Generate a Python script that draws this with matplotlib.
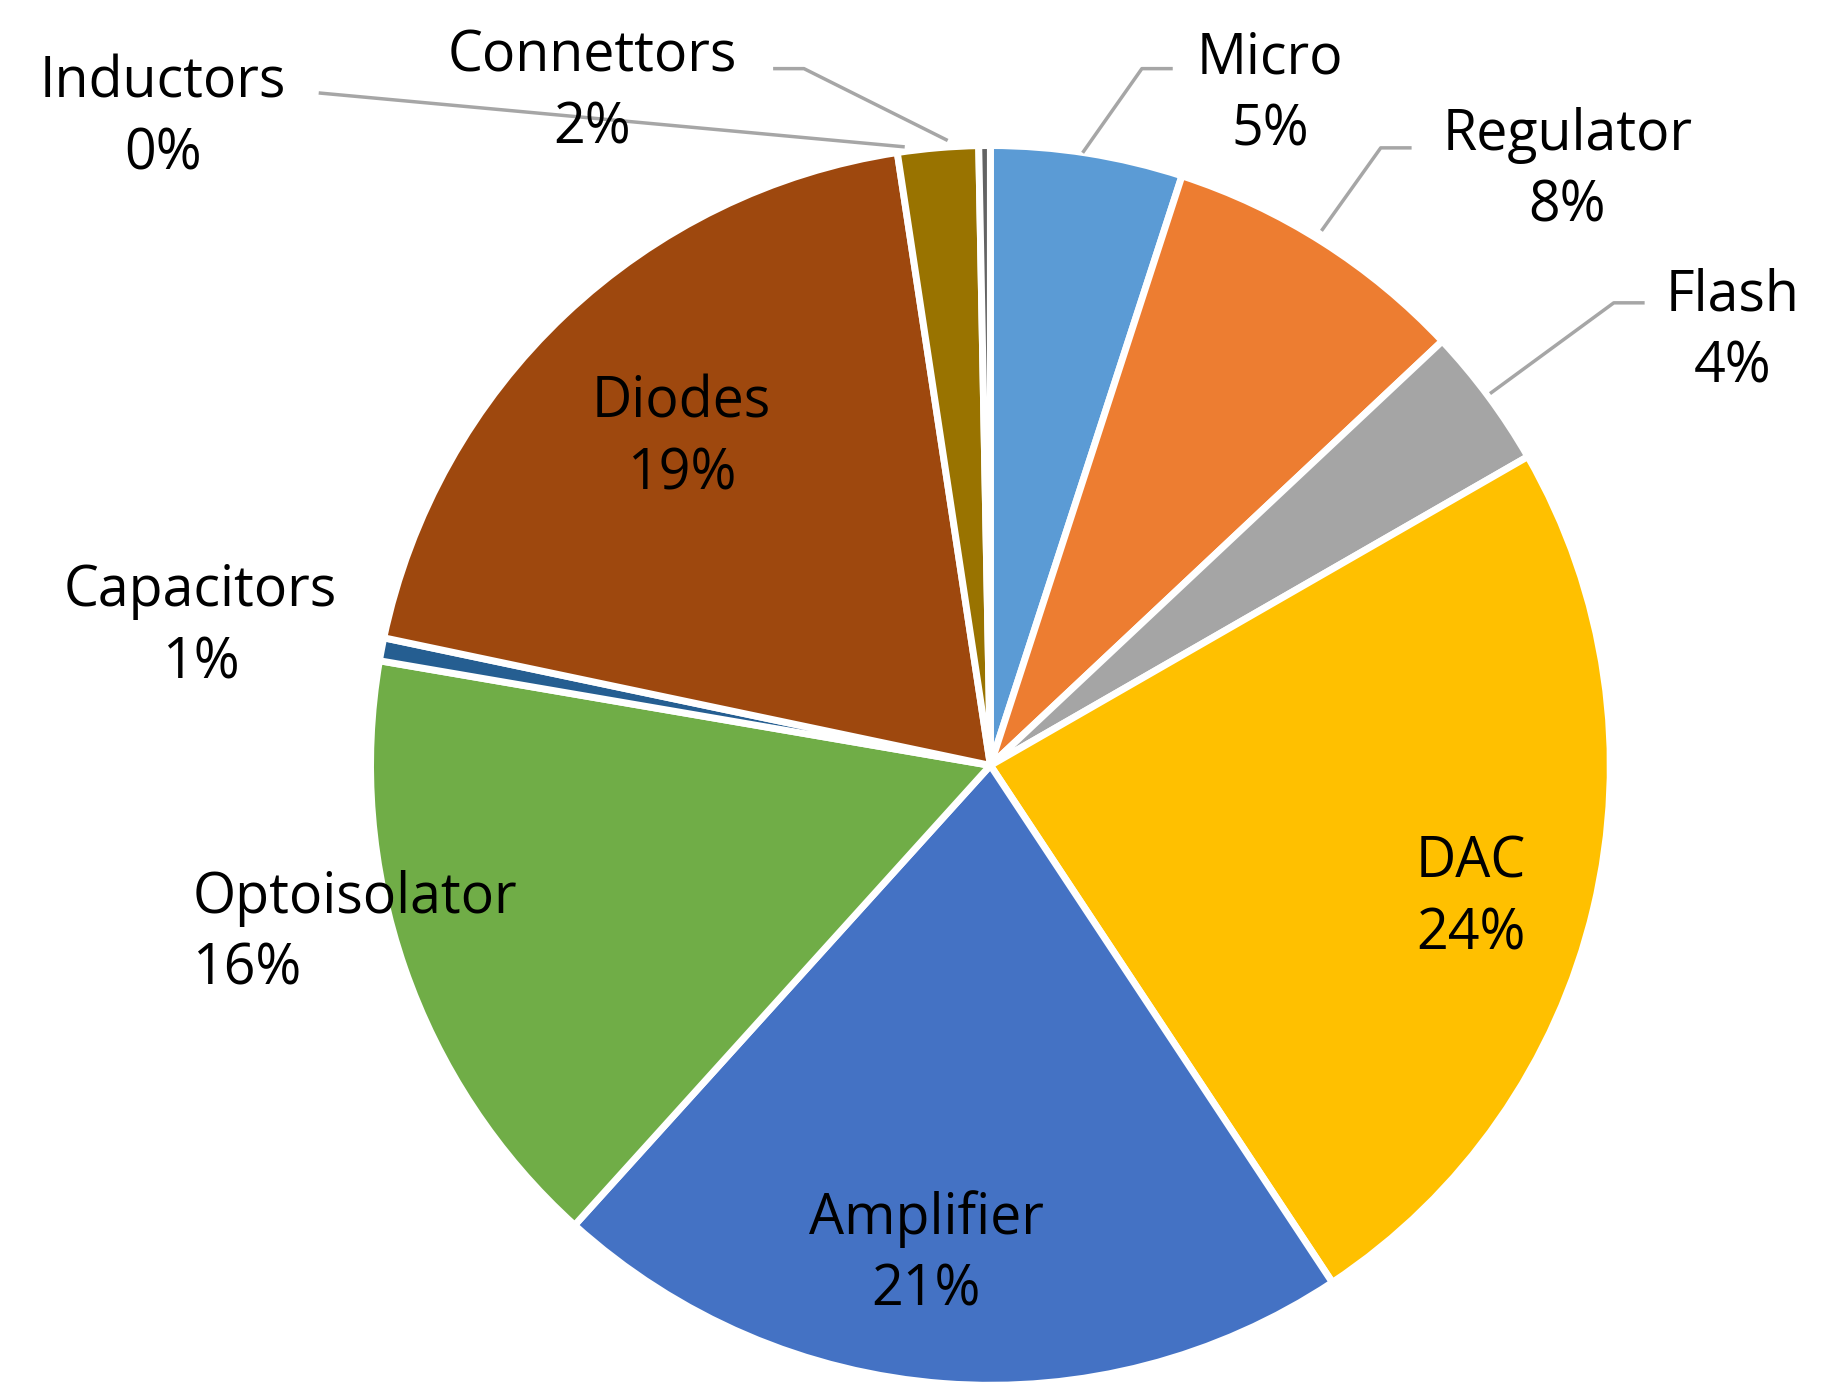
import matplotlib.pyplot as plt

# slice data, clockwise from 12 o'clock
names = ["Micro", "Regulator", "Flash", "DAC", "Amplifier", "Optoisolator",
         "Capacitors", "Diodes", "Connettors", "Inductors"]
values = [5.0, 8.0, 3.7, 24.0, 21.0, 16.0, 0.6, 19.3, 2.1, 0.3]
colors = ["#5B9BD5", "#ED7D31", "#A5A5A5", "#FFC000", "#4472C4", "#70AD47",
          "#255E91", "#9E480E", "#997300", "#636363"]

# label anchor points (image pixel coords, y from top) and alignment
label_pos = {
    "Micro": (1090, 80, "center"), "Regulator": (1345, 145, "center"),
    "Flash": (1487, 283, "center"), "DAC": (1262, 770, "center"),
    "Amplifier": (795, 1075, "center"), "Optoisolator": (165, 800, "left"),
    "Capacitors": (172, 537, "center"), "Diodes": (585, 375, "center"),
    "Connettors": (508, 78, "center"), "Inductors": (140, 100, "center"),
}
leaders = {
    "Micro": [(930, 128), (980, 57), (1005, 57)],
    "Regulator": [(1135, 195), (1185, 125), (1210, 125)],
    "Flash": [(1280, 335), (1385, 258), (1410, 258)],
    "Connettors": [(812, 118), (690, 57), (665, 57)],
    "Inductors": [(775, 124), (275, 78)],
}

W, H = 1568, 1190
fig = plt.figure(figsize=(18.27, 13.91), dpi=100)
ax = fig.add_axes([0, 0, 1, 1])

ax.pie(values, colors=colors, startangle=90, counterclock=False,
       center=(850, H - 655), radius=532,
       wedgeprops=dict(edgecolor="white", linewidth=5))
ax.set_xlim(0, W)
ax.set_ylim(0, H)
ax.set_aspect("equal")
ax.axis("off")

total = sum(values)
for n, v in zip(names, values):
    x, y, ha = label_pos[n]
    ax.text(x, H - y, f"{n}\n{round(v / total * 100)}%", ha=ha, va="center",
            fontsize=40, family="Open Sans", linespacing=1.35, color="black")

for n, pts in leaders.items():
    ax.plot([p[0] for p in pts], [H - p[1] for p in pts], color="#A6A6A6", lw=2.5)

fig.savefig("out.png", dpi=100, facecolor="white")
